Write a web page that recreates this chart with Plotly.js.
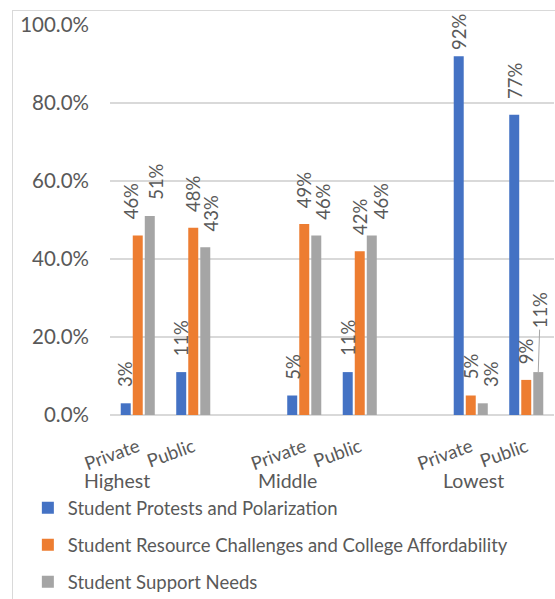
<!DOCTYPE html>
<html>
<head>
<meta charset="utf-8">
<script src="https://cdn.plot.ly/plotly-3.0.1.min.js"></script>
<style>
  html, body { margin: 0; padding: 0; background: #ffffff; }
  #frame { position: absolute; left: 12px; top: 10px; right: 0; bottom: 0;
           border-left: 1px solid #d9d9d9; border-top: 1px solid #d9d9d9; }
  #chart { position: absolute; left: 0; top: 0; width: 555px; height: 599px; }
</style>
</head>
<body>
<div id="frame"></div>
<div id="chart"></div>
<script>
// ---- data ----
const categories = ['Highest|Private', 'Highest|Public', 'Middle|Private', 'Middle|Public', 'Lowest|Private', 'Lowest|Public'];
const slotOrder = ['Highest|Private', 'Highest|Public', ' ', 'Middle|Private', 'Middle|Public', '  ', 'Lowest|Private', 'Lowest|Public'];
const tickLabels = ['Private', 'Public', 'Private', 'Public', 'Private', 'Public'];
const groupLabels = ['Highest', 'Middle', 'Lowest'];
const seriesNames = ['Student Protests and Polarization',
                     'Student Resource Challenges and College Affordability',
                     'Student Support Needs'];
const protests  = [0.03, 0.11, 0.05, 0.11, 0.92, 0.77];
const resources = [0.46, 0.48, 0.49, 0.42, 0.05, 0.09];
const support   = [0.51, 0.43, 0.46, 0.46, 0.03, 0.11];
const seriesValues = [protests, resources, support];

// ---- styling (not data) ----
const seriesColors = ['#4472C4', '#ED7D31', '#A5A5A5'];
const groupLabelX = [-0.37, 2.69, 6.05];           // axis positions of outer labels
const labelNudge = [[0, 0, 0, 0, 0, 0],            // px horizontal nudges of data labels
                    [-7, 0, 0, 0, 0, 0],
                    [6, 6, 6, 9, 9, 0]];
const leaderLabels = [[2, 5]];                      // labels drawn with a leader line
const barPitch = 12;                                // px between bars in a group

const FONT = 'Lato, "Open Sans", sans-serif';
const TXT = '#595959';

function pct(v) { return Math.round(v * 100) + '%'; }
function isLeader(s, i) { return leaderLabels.some(p => p[0] === s && p[1] === i); }

const traces = seriesValues.map((vals, s) => ({
  type: 'bar',
  name: seriesNames[s],
  legendgroup: 'g' + s,
  x: categories,
  y: vals,
  marker: { color: seriesColors[s] },
  hoverinfo: 'x+y'
}));

const annotations = groupLabels.map((g, k) => ({
  text: g, x: groupLabelX[k], xref: 'x', y: -0.169, yref: 'paper',
  xanchor: 'center', yanchor: 'middle', showarrow: false,
  font: { family: FONT, size: 19.5, color: TXT }
}));

seriesValues.forEach((vals, s) => {
  vals.forEach((v, i) => {
    if (isLeader(s, i)) {
      annotations.push({
        text: pct(v), x: categories[i], y: v, xref: 'x', yref: 'y',
        xshift: (s - 1) * barPitch,
        showarrow: true, arrowhead: 0, arrowwidth: 1, arrowcolor: '#a6a6a6',
        ax: 2, ay: -62, textangle: -90, standoff: 0,
        font: { family: FONT, size: 18.5, color: TXT }
      });
    } else {
      annotations.push({
        text: pct(v), x: categories[i], y: v, xref: 'x', yref: 'y',
        xshift: (s - 1) * barPitch + labelNudge[s][i],
        yshift: v > 0.9 ? 4 : 14,
        xanchor: 'center', yanchor: 'bottom', showarrow: false,
        textangle: -90,
        font: { family: FONT, size: 18.5, color: TXT }
      });
    }
  });
});

const layout = {
  width: 555, height: 599,
  margin: { l: 110, r: 1, t: 25, b: 184, autoexpand: false },
  paper_bgcolor: 'rgba(0,0,0,0)',
  plot_bgcolor: 'rgba(0,0,0,0)',
  barmode: 'group',
  bargap: 0.35,
  bargroupgap: 0.17,
  font: { family: FONT, size: 18, color: TXT },
  xaxis: {
    type: 'category',
    categoryorder: 'array',
    categoryarray: slotOrder,
    range: [-0.5, slotOrder.length - 0.5],
    tickvals: categories,
    ticktext: tickLabels,
    tickangle: -20,
    ticks: '',
    ticklabelstandoff: 17,
    showgrid: false,
    showline: false,
    zeroline: false,
    tickfont: { family: FONT, size: 18.5, color: TXT },
    fixedrange: true
  },
  yaxis: {
    range: [0, 1],
    dtick: 0.2,
    tickformat: '.1%',
    showgrid: true,
    gridcolor: '#d9d9d9',
    gridwidth: 1.4,
    zeroline: true,
    zerolinecolor: '#d9d9d9',
    zerolinewidth: 1.4,
    showline: false,
    ticks: '',
    ticklabelstandoff: 20,
    tickfont: { family: FONT, size: 20.5, color: TXT },
    fixedrange: true
  },
  showlegend: true,
  legend: {
    orientation: 'v',
    x: -0.185, xanchor: 'left',
    y: -0.19, yanchor: 'top',
    traceorder: 'grouped',
    tracegroupgap: 10,
    font: { family: FONT, size: 18.5, color: TXT },
    bgcolor: 'rgba(0,0,0,0)'
  },
  annotations: annotations
};

Plotly.newPlot('chart', traces, layout, { displayModeBar: false, staticPlot: true });
</script>
</body>
</html>
